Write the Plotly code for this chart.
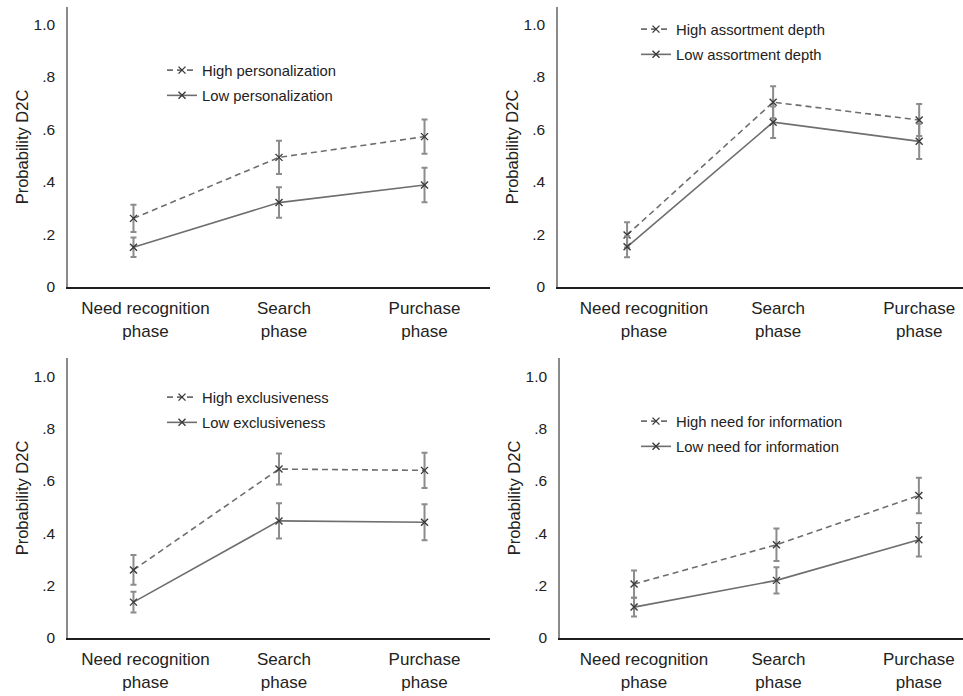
import plotly.graph_objects as go

W, H = 963, 696

categories = ["Need recognition<br>phase", "Search<br>phase", "Purchase<br>phase"]
y_ticks = [0, 0.2, 0.4, 0.6, 0.8, 1.0]
y_tick_labels = ["0", ".2", ".4", ".6", ".8", "1.0"]

# panel 1: personalization
p1_names = ["High personalization", "Low personalization"]
p1_high = [0.261, 0.493, 0.572]
p1_high_err = [0.052, 0.063, 0.065]
p1_low = [0.151, 0.321, 0.388]
p1_low_err = [0.037, 0.058, 0.066]

# panel 2: assortment depth
p2_names = ["High assortment depth", "Low assortment depth"]
p2_high = [0.198, 0.703, 0.635]
p2_high_err = [0.048, 0.061, 0.061]
p2_low = [0.153, 0.627, 0.554]
p2_low_err = [0.040, 0.060, 0.067]

# panel 3: exclusiveness
p3_names = ["High exclusiveness", "Low exclusiveness"]
p3_high = [0.260, 0.645, 0.640]
p3_high_err = [0.057, 0.059, 0.067]
p3_low = [0.137, 0.447, 0.442]
p3_low_err = [0.040, 0.067, 0.069]

# panel 4: need for information
p4_names = ["High need for information", "Low need for information"]
p4_high = [0.206, 0.356, 0.544]
p4_high_err = [0.052, 0.062, 0.068]
p4_low = [0.118, 0.220, 0.375]
p4_low_err = [0.036, 0.050, 0.064]

panels = [
    (p1_names, p1_high, p1_high_err, p1_low, p1_low_err),
    (p2_names, p2_high, p2_high_err, p2_low, p2_low_err),
    (p3_names, p3_high, p3_high_err, p3_low, p3_low_err),
    (p4_names, p4_high, p4_high_err, p4_low, p4_low_err),
]

# ---- layout geometry (pixels) ----
# (x_left, x_right, y_top, y_bottom, xrange, yrange_top, label_shift, legend(textx, row1y))
geom = [
    (68, 490, 7, 287, [-0.45, 2.45], 1.065, [0.082, 0.034, 0.0], (202, 69)),
    (558, 963, 7, 287, [-0.473, 2.30], 1.065, [0.116, 0.034, 0.0], (676, 28)),
    (68, 490, 358, 638, [-0.45, 2.45], 1.069, [0.082, 0.034, 0.0], (202, 396)),
    (560, 963, 358, 638, [-0.52, 2.31], 1.069, [0.07, 0.014, 0.0], (676, 420)),
]

LINE_COLOR = "#6e6e6e"
ERR_COLOR = "#8c8c8c"
MARK_COLOR = "#3a3a3a"
FONT = "Liberation Sans, Arial, sans-serif"

fig = go.Figure()
xpos = list(range(len(categories)))

layout = dict(
    template="none",
    width=W, height=H,
    margin=dict(l=0, r=0, t=0, b=0, pad=0),
    paper_bgcolor="white", plot_bgcolor="white",
    font=dict(family=FONT, color="#222", size=15),
    showlegend=True,
)

for i, (names, hi, hie, lo, loe) in enumerate(panels):
    xl, xr, yt, yb, xr_range, ytop, shift, (lx, ly) = geom[i]
    ax = "" if i == 0 else str(i + 1)
    lg = "legend" if i == 0 else f"legend{i + 1}"
    for name, vals, errs, dash in [(names[0], hi, hie, "6px,4px"), (names[1], lo, loe, "solid")]:
        fig.add_trace(go.Scatter(
            x=xpos, y=vals, name=name, mode="lines+markers",
            xaxis="x" + ax, yaxis="y" + ax, legend=lg,
            legendgroup=name,
            line=dict(color=LINE_COLOR, width=1.6, dash=dash),
            marker=dict(symbol="x-thin", size=7, line=dict(width=1.4, color=MARK_COLOR), color=MARK_COLOR),
            error_y=dict(type="data", array=errs, visible=True, color=ERR_COLOR, thickness=2, width=3),
            hoverinfo="skip",
        ))
    layout["xaxis" + ax] = dict(
        domain=[xl / W, xr / W], range=xr_range, anchor="y" + ax,
        tickmode="array", tickvals=[p + s for p, s in zip(xpos, shift)], ticktext=categories,
        showline=True, linecolor="#1e1e1e", linewidth=2, showgrid=False, zeroline=False,
        ticks="", tickfont=dict(size=17, color="#222"), ticklabelstandoff=5,
        automargin=False, fixedrange=True,
    )
    layout["yaxis" + ax] = dict(
        domain=[1 - yb / H, 1 - yt / H], range=[0, ytop], anchor="x" + ax,
        tickmode="array", tickvals=y_ticks, ticktext=y_tick_labels,
        showline=True, linecolor="#8a8a8a", linewidth=1.5, showgrid=False, zeroline=False,
        ticks="", tickfont=dict(size=15.5, color="#222"), ticklabelstandoff=8,
        title=dict(text="Probability D2C", font=dict(size=16.5, color="#222"), standoff=1),
        automargin=False, fixedrange=True,
    )
    layout[lg] = dict(
        x=(lx - 40) / W, y=1 - (ly - 15) / H, xanchor="left", yanchor="top",
        bgcolor="rgba(0,0,0,0)", font=dict(size=14.8, color="#222"),
        tracegroupgap=3, itemwidth=30,
    )

fig.update_layout(**layout)
fig.write_html(
    "out.html",
    config={"displayModeBar": False},
    post_script="document.body.style.margin='0';document.body.style.overflow='hidden';",
)
